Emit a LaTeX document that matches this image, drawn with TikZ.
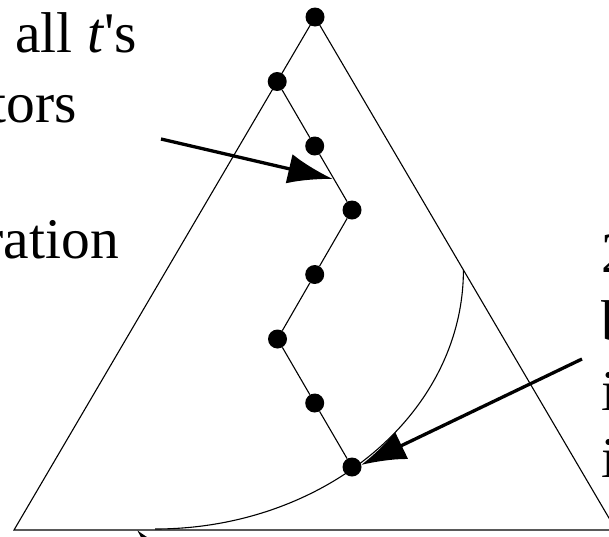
\documentclass[tikz,border=0pt]{standalone}
\usepackage{fontspec}
\newfontfamily\tnr{Liberation Serif}
\usetikzlibrary{arrows.meta}
\begin{document}
\begin{tikzpicture}[x=1pt,y=-1pt,
  dot/.style={circle,fill=black,inner sep=0pt,minimum size=19pt},
  edgeline/.style={line width=1.1pt},
  bigarrow/.style={line width=3.3pt,-{Latex[length=45pt,width=30pt]}},
  lbl/.style={font=\tnr\fontsize{57.5}{69}\selectfont,inner sep=0pt}]
\useasboundingbox (0,0) rectangle (609,536);
\clip (0,0) rectangle (609,536);
% triangle
\coordinate (L) at (14,530);
\coordinate (R) at (616,530);
\coordinate (C0) at (463.4,270);
\coordinate (C1) at (155,529);
\node[dot] (a)  at (315,17) {};
\node[dot] (d1) at (277.2,81.5) {};
\node[dot] (d2) at (314.7,146) {};
\node[dot] (d3) at (352,210) {};
\node[dot] (d4) at (314.7,274.5) {};
\node[dot] (d5) at (277.5,339) {};
\node[dot] (d6) at (314.7,403) {};
\node[dot] (d7) at (352,467) {};
\draw[edgeline] (a.center) -- (L) -- (R) -- cycle;
\draw[edgeline] (d1) -- (d2) -- (d3) -- (d4) -- (d5) -- (d6) -- (d7);
% curve
\draw[edgeline] (C0) .. controls (463.4,413) and (325,529) .. (C1);
% arrows
\coordinate (t1) at (161,139);
\coordinate (h1) at (333,179);
\coordinate (t2) at (582,359);
\coordinate (h2) at (361,465);
\coordinate (t3) at (190,590);
\coordinate (h3) at (137,530);
\draw[bigarrow] (t1) -- (h1);
\draw[bigarrow] (t2) -- (h2);
\draw[bigarrow] (t3) -- (h3);
% texts
\node[lbl,anchor=base west] (x1) at (15,52) {all \textit{t}'s};
\node[lbl,anchor=base east] (x2) at (77,122) {tors};
\node[lbl,anchor=base east] (x3) at (119,258) {ration};
\node[lbl,anchor=base west] (y1) at (601,272) {2};
\node[lbl,anchor=base west] (y2) at (601,340) {b};
\node[lbl,anchor=base west] (y3) at (601,410) {i};
\node[lbl,anchor=base west] (y4) at (601,477) {i};
\end{tikzpicture}
\end{document}
